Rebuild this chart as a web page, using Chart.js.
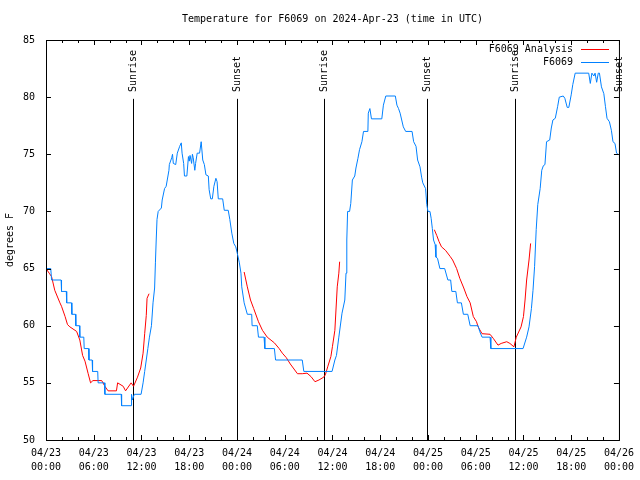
<!DOCTYPE html>
<html>
<head>
<meta charset="utf-8">
<title>Temperature for F6069</title>
<script src="https://cdn.jsdelivr.net/npm/chart.js@4.4.1/dist/chart.umd.min.js"></script>
<style>
  html, body { margin: 0; padding: 0; background: #fff; }
  canvas { display: block; }
</style>
</head>
<body>
<canvas id="tempChart" width="640" height="480"></canvas>
<script>
/* Station temperature plot, gnuplot look-alike */

// --- Data (x = hours since 04/23 00:00 UTC, y = degrees F) ---

const obsHours = [
    0.0, 0.6, 0.7, 1.9, 1.95, 2.55, 2.6, 3.2, 3.25, 3.7, 3.75, 4.2, 4.25, 4.75, 4.8, 5.35, 5.4, 5.8, 5.85, 6.5,
    6.55, 7.35, 7.4, 9.45, 9.5, 10.7, 10.75, 10.85, 11.1, 11.95, 12.2, 12.4, 12.6, 12.8, 13.0, 13.25, 13.45, 13.65, 13.75, 13.85,
    13.95, 14.1, 14.5, 14.6, 14.9, 15.1, 15.45, 15.5, 15.8, 15.9, 16.0, 16.3, 16.5, 16.8, 17.0, 17.1, 17.3, 17.4, 17.7, 17.9,
    18.0, 18.1, 18.3, 18.4, 18.5, 18.7, 18.8, 19.0, 19.3, 19.5, 19.7, 19.9, 20.1, 20.4, 20.5, 20.7, 20.9, 21.1, 21.35, 21.5,
    21.65, 22.2, 22.4, 22.9, 23.1, 23.35, 23.6, 23.85, 24.05, 24.3, 24.5, 24.6, 24.9, 25.3, 25.85, 25.9, 26.55, 26.7, 27.4, 27.5,
    28.7, 28.85, 32.2, 32.4, 35.95, 36.3, 36.5, 36.8, 37.2, 37.55, 37.7, 37.8, 37.9, 38.15, 38.3, 38.5, 38.8, 38.95, 39.2, 39.4,
    39.7, 39.9, 40.45, 40.5, 40.7, 40.9, 42.2, 42.4, 42.7, 43.9, 44.1, 44.3, 44.5, 44.7, 44.9, 45.2, 46.0, 46.2, 46.5, 46.7,
    47.0, 47.2, 47.35, 47.7, 47.85, 48.0, 48.25, 48.4, 48.55, 48.7, 48.9, 49.0, 49.2, 49.5, 50.1, 50.5, 50.85, 51.0, 51.5, 51.7,
    52.2, 52.45, 53.0, 53.3, 54.3, 54.5, 54.8, 55.8, 55.9, 59.95, 60.4, 60.7, 61.0, 61.2, 61.4, 61.6, 61.8, 62.1, 62.3, 62.5,
    62.7, 62.9, 63.3, 63.5, 63.7, 64.0, 64.3, 64.5, 65.0, 65.2, 65.5, 65.7, 66.0, 66.2, 66.5, 68.2, 68.4, 68.6, 68.85, 69.0,
    69.2, 69.4, 69.55, 69.8, 70.1, 70.3, 70.5, 70.8, 71.05, 71.25, 71.5, 71.7, 71.9
];
const obsTemps = [
    65, 65, 64, 64, 63, 63, 62, 62, 61, 61, 60, 60, 59, 59, 58, 58, 57, 57, 56, 56,
    55, 55, 54, 54, 53, 53, 54, 53.5, 54, 54, 55, 56, 57, 58, 59, 60, 62, 63.3, 65.5, 67.5,
    69.3, 70, 70.3, 71, 72, 72.2, 73.6, 74.1, 74.7, 75, 74.2, 74.1, 75.1, 75.7, 76, 75.1, 74.2, 73.1, 73.1, 74.8,
    74.4, 74.9, 74.2, 75, 74.7, 73.6, 74.2, 75.1, 75.1, 76.1, 74.5, 74.1, 73.2, 73.1, 71.9, 71.1, 71.1, 72.2, 72.9, 72.6,
    71.1, 71.1, 70.1, 70.1, 69.3, 68.1, 67.2, 66.9, 66.3, 65.5, 64.6, 63.4, 62, 61, 61, 60, 60, 59, 59, 58,
    58, 57, 57, 56, 56, 57, 57.4, 59, 61.1, 62.25, 64.6, 67.5, 70, 70, 70.7, 72.75, 73.1, 73.8, 74.65, 75.4,
    76.1, 77, 77, 78.6, 79, 78.1, 78.1, 79.3, 80.1, 80.1, 79.3, 79, 78.6, 78, 77.4, 77, 77, 76.1, 75.7, 74.5,
    73.9, 73, 72.5, 72, 70.6, 70, 70, 69.4, 68.5, 67.5, 67.1, 66, 65.9, 65, 65, 64, 64, 63, 63, 62,
    62, 61, 61, 60, 60, 59.5, 59, 59, 58, 58, 59, 59.9, 61.5, 63.1, 65.2, 68.4, 70.6, 72, 73.6, 74,
    74.1, 76.1, 76.25, 77.3, 78, 78.15, 79.2, 80, 80.1, 79.9, 79.1, 79.1, 80.2, 81.1, 82.1, 82.1, 81.2, 82.1, 81.85, 82.1,
    81.3, 82.1, 82.1, 80.9, 80.3, 79.2, 78.15, 77.85, 77.1, 76.1, 75.95, 75.1, 75
];

// analysis only exists for the night hours, null = gap
const anaHours = [
    0.0, 0.4, 0.7, 1.1, 1.75, 1.95, 2.4, 2.7, 3.0, 3.85, 4.25, 4.6, 4.9, 5.3, 5.6, 5.9, 7.0, 7.4, 7.8, 8.85,
    9.0, 9.7, 10.0, 10.7, 11.0, 11.5, 11.9, 12.2, 12.4, 12.6, 12.7, 12.95,
    18,
    24.9, 25.3, 25.7, 26.1, 26.7, 27.2, 27.8, 28.7, 29.3, 29.7, 30.2, 30.7, 31.6, 32.2, 32.8, 33.3, 33.8, 34.3, 34.9, 35.1,
    35.4, 35.8, 36.0, 36.3, 36.6, 36.8, 36.9,
    43,
    48.8, 49.1, 49.4, 49.7, 50.2, 50.8, 51.1, 51.6, 52.0, 52.5, 52.9, 53.3, 53.7, 54.1, 54.3, 54.8, 55.8, 56.2, 56.8, 57.2,
    57.9, 58.3, 58.8, 59.1, 59.7, 60.0, 60.2, 60.4, 60.7, 60.9
];
const anaTemps = [
    65, 64.6, 64.3, 63.1, 62, 61.7, 60.8, 60.1, 59.9, 59.5, 58.75, 57.4, 56.9, 55.8, 55, 55.2, 55.2, 54.7, 54.3, 54.3,
    55, 54.7, 54.3, 55, 54.7, 55.5, 56.3, 57.6, 59.3, 60.9, 62.4, 62.8,
    null,
    64.7, 63.4, 62.25, 61.5, 60.35, 59.6, 59, 58.5, 58, 57.6, 57.2, 56.65, 55.8, 55.8, 55.85, 55.55, 55.1, 55.25, 55.5, 55.7,
    56.4, 57.3, 58.2, 59.6, 63.4, 64.6, 65.6,
    null,
    68.4, 67.9, 67.35, 66.9, 66.6, 66.05, 65.75, 65, 64.15, 63.3, 62.55, 62, 60.8, 60.35, 59.9, 59.3, 59.25, 58.9, 58.3, 58.45,
    58.6, 58.45, 58.15, 59, 59.9, 60.8, 62.25, 64, 65.75, 67.2
];

const sunriseHours = [10.9, 34.95, 58.9];
const sunsetHours = [23.95, 47.85, 71.95];

const tickDates = ['04/23', '04/23', '04/23', '04/23', '04/24', '04/24', '04/24', '04/24', '04/25', '04/25', '04/25', '04/25', '04/26'];
const tickTimes = ['00:00', '06:00', '12:00', '18:00', '00:00', '06:00', '12:00', '18:00', '00:00', '06:00', '12:00', '18:00', '00:00'];

const titleText = 'Temperature for F6069 on 2024-Apr-23 (time in UTC)';

// --- Styling ---

const FONT = '"DejaVu Sans Mono", "Liberation Mono", monospace';
const RED = '#ff0000';
const BLUE = '#0080ff';
const SUN_LINE_TOP = 79.85;   // y value where the sunrise/sunset markers stop
const SUN_LABEL_BASE = 80.45; // y value where the rotated labels start

Chart.defaults.font.family = FONT;
Chart.defaults.font.size = 10;
Chart.defaults.color = '#000';

const toPoints = (xs, ys) => xs.map((x, i) => ({ x: x, y: ys[i] }));

// Frame, inward ticks, sun markers, title and legend drawn gnuplot style
const gnuplotDecor = {
    id: 'gnuplotDecor',
    beforeDatasetsDraw(chart) {
        const { ctx, chartArea: a, scales: { x, y } } = chart;
        const yTop = y.getPixelForValue(SUN_LINE_TOP);
        const yLabel = y.getPixelForValue(SUN_LABEL_BASE);

        ctx.save();
        ctx.strokeStyle = '#000';
        ctx.fillStyle = '#000';
        ctx.lineWidth = 1;
        ctx.font = '10px ' + FONT;

        const mark = (hours, label) => hours.forEach(h => {
            const px = Math.round(x.getPixelForValue(h)) + 0.5;
            ctx.beginPath();
            ctx.moveTo(px, yTop);
            ctx.lineTo(px, a.bottom);
            ctx.stroke();

            ctx.save();
            ctx.translate(px, yLabel);
            ctx.rotate(-Math.PI / 2);
            ctx.textAlign = 'left';
            ctx.textBaseline = 'middle';
            ctx.fillText(label, 0, 0);
            ctx.restore();
        });
        mark(sunriseHours, 'Sunrise');
        mark(sunsetHours, 'Sunset');
        ctx.restore();
    },
    afterDraw(chart) {
        const { ctx, chartArea: a, scales: { x, y } } = chart;
        ctx.save();
        ctx.strokeStyle = '#000';
        ctx.lineWidth = 1;

        // border
        ctx.strokeRect(a.left + 0.5, a.top + 0.5, a.right - a.left, a.bottom - a.top);

        // x ticks: major every 6h, minor every 2h, bottom and top
        ctx.beginPath();
        const xt = x.ticks.map(t => t.value);
        for (let i = 0; i < xt.length; i++) {
            const vals = [xt[i]];
            if (i < xt.length - 1) {
                const step = (xt[i + 1] - xt[i]) / 3;
                vals.push(xt[i] + step, xt[i] + 2 * step);
            }
            vals.forEach((v, j) => {
                const len = j === 0 ? 5 : 3;
                const px = Math.round(x.getPixelForValue(v)) + 0.5;
                ctx.moveTo(px, a.bottom);
                ctx.lineTo(px, a.bottom - len);
                ctx.moveTo(px, a.top);
                ctx.lineTo(px, a.top + len);
            });
        }
        // y ticks on both sides
        y.ticks.forEach(t => {
            const py = Math.round(y.getPixelForValue(t.value)) + 0.5;
            ctx.moveTo(a.left, py);
            ctx.lineTo(a.left + 5, py);
            ctx.moveTo(a.right, py);
            ctx.lineTo(a.right - 5, py);
        });
        ctx.stroke();

        // title
        ctx.fillStyle = '#000';
        ctx.font = '10px ' + FONT;
        ctx.textAlign = 'center';
        ctx.textBaseline = 'middle';
        ctx.fillText(titleText, (a.left + a.right) / 2, 19);

        // legend, top right
        const items = chart.data.datasets;
        ctx.textAlign = 'right';
        items.forEach((ds, i) => {
            const ly = 49 + i * 13;
            ctx.fillStyle = '#000';
            ctx.fillText(ds.label, 573, ly);
            ctx.strokeStyle = ds.borderColor;
            ctx.beginPath();
            ctx.moveTo(581, ly + 0.5);
            ctx.lineTo(609, ly + 0.5);
            ctx.stroke();
        });
        ctx.restore();
    }
};

const ctx = document.getElementById('tempChart').getContext('2d');

new Chart(ctx, {
    type: 'line',
    data: {
        datasets: [{
            label: 'F6069 Analysis',
            data: toPoints(anaHours, anaTemps),
            borderColor: RED,
            borderWidth: 1,
            pointRadius: 0,
            tension: 0,
            spanGaps: false,
            order: 1,
        }, {
            label: 'F6069',
            data: toPoints(obsHours, obsTemps),
            borderColor: BLUE,
            borderWidth: 1,
            pointRadius: 0,
            tension: 0,
            order: 0,
        }]
    },
    options: {
        responsive: false,
        animation: false,
        devicePixelRatio: 1,
        layout: { padding: { top: 40, right: 19, bottom: 0, left: 0 } },
        plugins: {
            legend: { display: false },
            title: { display: false },
            tooltip: { enabled: false },
        },
        scales: {
            x: {
                type: 'linear',
                min: 0,
                max: 72,
                grid: { display: false, drawTicks: false },
                border: { display: false },
                ticks: {
                    stepSize: 6,
                    autoSkip: false,
                    maxRotation: 0,
                    minRotation: 0,
                    padding: 6,
                    font: { size: 10, lineHeight: 1.4 },
                    callback: (v) => {
                        const i = Math.round(v / 6);
                        return [tickDates[i], tickTimes[i]];
                    }
                },
                afterFit: (scale) => { scale.height = 40; }
            },
            y: {
                min: 50,
                max: 85,
                grid: { display: false, drawTicks: false },
                border: { display: false },
                ticks: { stepSize: 5, padding: 11 },
                title: {
                    display: true,
                    text: 'degrees F',
                    padding: { top: 4, bottom: 0 },
                    font: { size: 10 }
                },
                afterFit: (scale) => { scale.width = 46; }
            }
        }
    },
    plugins: [gnuplotDecor]
});
</script>
</body>
</html>
